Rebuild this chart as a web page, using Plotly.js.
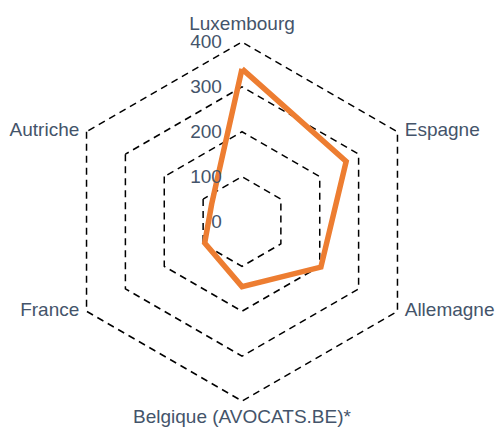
<!DOCTYPE html>
<html>
<head>
<meta charset="utf-8">
<script src="https://cdn.plot.ly/plotly-3.0.1.min.js"></script>
<style>html,body{margin:0;padding:0;background:#fff;}#chart{width:497px;height:432px;}</style>
</head>
<body>
<div id="chart"></div>
<script>
const categories = ["Luxembourg", "Espagne", "Allemagne", "Belgique (AVOCATS.BE)*", "France", "Autriche"];
const values = [340, 268, 203, 145, 96, 78];
const tickValues = [0, 100, 200, 300, 400];
const labelPositions = ["top center", "middle right", "middle right", "bottom center", "middle left", "middle left"];

const theta = categories.concat([categories[0]]);
const r = values.concat([values[0]]);
const textColor = "#44546A";
const rMax = tickValues[tickValues.length - 1];

const data = [{
  type: "scatterpolar",
  r: categories.map(() => rMax),
  theta: categories,
  mode: "markers+text",
  text: categories,
  textposition: labelPositions,
  textfont: {size: 19, color: textColor, family: "Liberation Sans, Arial, sans-serif"},
  marker: {size: 10, color: "rgba(0,0,0,0)"},
  cliponaxis: false,
  hoverinfo: "skip",
  showlegend: false
}, {
  type: "scatterpolar",
  r: r,
  theta: theta,
  mode: "lines",
  line: {color: "#ED7D31", width: 5.5, shape: "linear"},
  hoverinfo: "skip",
  showlegend: false
}];

const layout = {
  width: 497,
  height: 432,
  margin: {l: 0, r: 0, t: 0, b: 0},
  paper_bgcolor: "#ffffff",
  plot_bgcolor: "#ffffff",
  font: {family: "Liberation Sans, Arial, sans-serif", size: 19, color: textColor},
  polar: {
    domain: {x: [53.5/497, 430.5/497], y: [22/432, 399/432]},
    gridshape: "linear",
    bgcolor: "rgba(0,0,0,0)",
    radialaxis: {
      range: [0, 420],
      tickvals: tickValues,
      ticktext: tickValues.map(String),
      angle: 90,
      tickangle: 90,
      side: "counterclockwise",
      showline: false,
      ticks: "outside",
      ticklen: 13,
      tickcolor: "rgba(0,0,0,0)",
      gridcolor: "#000000",
      gridwidth: 1.5,
      griddash: "7px,5px",
      tickfont: {size: 19, color: textColor}
    },
    angularaxis: {
      direction: "clockwise",
      rotation: 90,
      showgrid: false,
      showline: false,
      showticklabels: false,
      ticks: ""
    }
  }
};

Plotly.newPlot("chart", data, layout, {displayModeBar: false, staticPlot: true});
</script>
</body>
</html>
